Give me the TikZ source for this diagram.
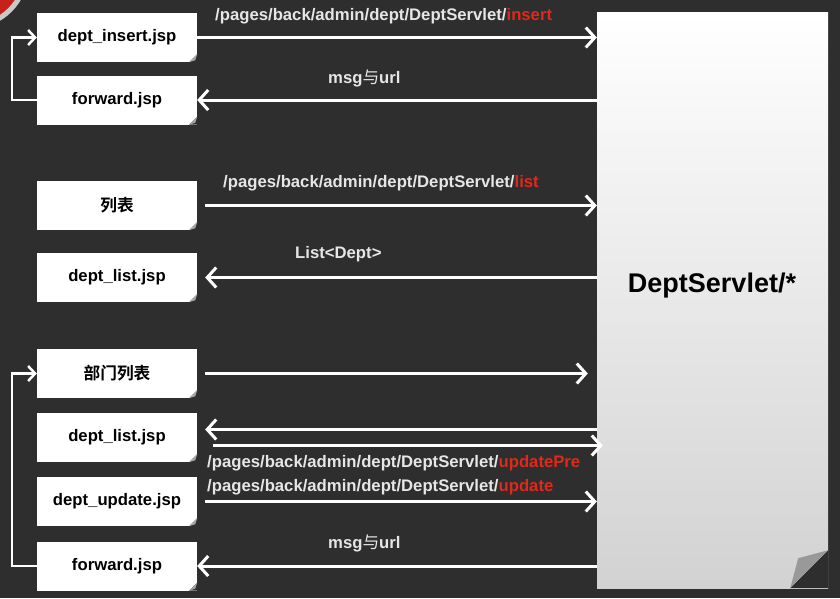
\documentclass[tikz,border=0pt]{standalone}
\usepackage{fontspec}
\setmainfont{Liberation Sans}
\newfontfamily\cjk{Noto Sans CJK SC}[BoldFont={Noto Sans CJK SC Bold}]
\usetikzlibrary{arrows.meta,calc}
\definecolor{bg}{HTML}{2E2E2E}
\definecolor{lbl}{HTML}{E6E6E6}
\definecolor{hot}{HTML}{E0281B}
\definecolor{ring}{HTML}{C9C9C9}
\definecolor{redarc}{HTML}{C8201A}
\definecolor{srvmid}{HTML}{F1F1F1}
\definecolor{srvbot}{HTML}{D2D2D2}
\begin{document}
\begin{tikzpicture}[x=1pt,y=-1pt,
  jspbox/.style={fill=white, minimum width=160pt, minimum height=49pt, inner sep=0pt,
    font=\bfseries\fontsize{16.7}{18}\selectfont, text=black},
  srvbox/.style={minimum width=231pt, minimum height=576pt, inner sep=0pt,
    top color=white, middle color=srvmid, bottom color=srvbot},
  arr/.style={draw=white, line width=3pt, -{Straight Barb[length=9pt,width=20pt,line width=3pt]}},
  looparr/.style={draw=white, line width=2.5pt, -{Straight Barb[length=7pt,width=15pt,line width=2.5pt]}},
  lbltext/.style={anchor=base west, inner sep=0pt, text=lbl, font=\bfseries\fontsize{16.7}{18}\selectfont}
]
\fill[bg] (0,0) rectangle (840,598);
\useasboundingbox (0,0) rectangle (840,598);
\begin{scope}
  \clip (0,0) rectangle (840,598);
  \fill[redarc] (-30,-30) circle (56);
  \draw[ring, line width=5pt] (-30,-30) circle (56.5);
\end{scope}

% boxes
\node[jspbox] (ins) at (117,37.5) {dept\_insert.jsp};
\node[jspbox] (fw1) at (117,100) {forward.jsp};
\node[jspbox] (lst) at (117,205.5) {\cjk\bfseries 列表};
\node[jspbox] (dl1) at (117,277.5) {dept\_list.jsp};
\node[jspbox] (bml) at (117,373.5) {\cjk\bfseries 部门列表};
\node[jspbox] (dl2) at (117,437.5) {dept\_list.jsp};
\node[jspbox] (upd) at (117,501.5) {dept\_update.jsp};
\node[jspbox] (fw2) at (117,566) {forward.jsp};

\foreach \n in {ins,fw1,lst,dl1,bml,dl2,upd,fw2}{
  \fill[bg] (\n.south east) -- ++(-8,0) -- ++(8,-8) -- cycle;
  \fill[black!35] ($(\n.south east)+(-8,0)$) -- ++(8,-8) -- ++(-2,6) -- cycle;
}

% servlet
\node[srvbox] (srv) at (712.5,300) {};
\fill[bg] (srv.south east) -- ++(0,-38) -- ++(-38,38) -- cycle;
\fill[black!40] ($(srv.south east)+(0,-38)$) -- ++(-38,38) -- ++(8,-30) -- cycle;
\node[anchor=base, inner sep=0pt, font=\bfseries\fontsize{27}{30}\selectfont] (srvtxt) at (712,292) {DeptServlet/*};

% helper coordinates
\coordinate (dlin) at ([yshift=8pt]dl2.east);
\coordinate (dlout) at ([yshift=-8pt]dl2.east);

% connectors
\draw[arr] (ins.east) -- (ins.east -| srv.west);
\draw[arr] (fw1.east -| srv.west) -- (fw1.east);
\draw[looparr] (fw1.west) -- ++(-25,0) |- (ins.west);

\draw[arr, shorten <=8pt] (lst.east) -- (lst.east -| srv.west);
\draw[arr, shorten >=8pt] (dl1.east -| srv.west) -- (dl1.east);

\draw[arr, shorten <=8pt, shorten >=9pt] (bml.east) -- (bml.east -| srv.west);
\draw[arr, shorten >=8pt] (dlin -| srv.west) -- (dlin);
\draw[arr, shorten <=16pt, shorten >=-6pt] (dlout) -- (dlout -| srv.west);
\draw[arr, shorten <=8pt] (upd.east) -- (upd.east -| srv.west);
\draw[arr] (fw2.east -| srv.west) -- (fw2.east);
\draw[looparr] (fw2.west) -- ++(-25,0) |- (bml.west);

% labels
\node[lbltext] (l1) at (215,20) {/pages/back/admin/dept/DeptServlet/\textcolor{hot}{insert}};
\node[lbltext] (l2) at (328,83) {msg{\cjk\mdseries 与}url};
\node[lbltext] (l3) at (223,187) {/pages/back/admin/dept/DeptServlet/\textcolor{hot}{list}};
\node[lbltext] (l4) at (295,258) {List<Dept>};
\node[lbltext] (l5) at (207,467) {/pages/back/admin/dept/DeptServlet/\textcolor{hot}{updatePre}};
\node[lbltext] (l6) at (207,491) {/pages/back/admin/dept/DeptServlet/\textcolor{hot}{update}};
\node[lbltext] (l7) at (328,548) {msg{\cjk\mdseries 与}url};
\end{tikzpicture}
\end{document}
